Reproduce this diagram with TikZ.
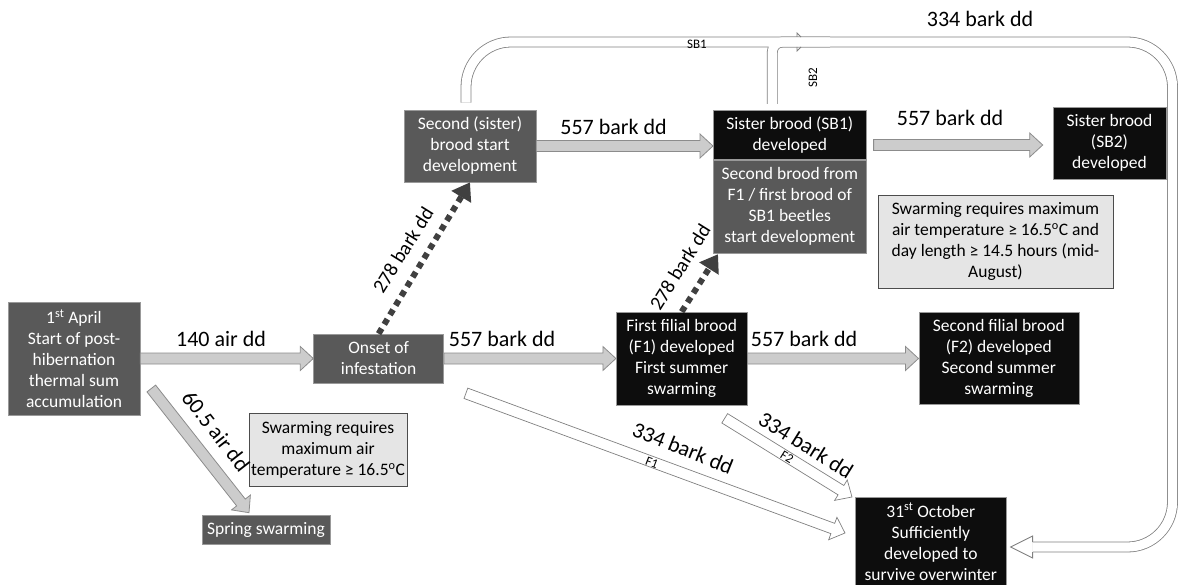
\documentclass[tikz,border=0pt]{standalone}
\usepackage{fontspec}
\setmainfont{Carlito}
\usetikzlibrary{arrows.meta,positioning,calc}

% straight block arrow from #2 to #3
\newcommand\blockarrow[3][]{%
  \coordinate (ba-h) at ($(#3)!13pt!(#2)$);
  \draw[blockarr,#1] ($(#2)!5.5pt!90:(#3)$) -- ($(ba-h)!5.5pt!90:(#3)$)
    -- ($(ba-h)!12pt!90:(#3)$) -- (#3) -- ($(ba-h)!12pt!-90:(#3)$)
    -- ($(ba-h)!5.5pt!-90:(#3)$) -- ($(#2)!5.5pt!-90:(#3)$) -- cycle;
}

\begin{document}
\begin{tikzpicture}[
  x=1pt, y=-1pt,
  box/.style={align=center,inner sep=2pt,font=\fontsize{17.5}{21}\selectfont},
  darkbox/.style={box,fill=black!65,draw=black!40,line width=0.6pt,text=white},
  blackbox/.style={box,fill=black!95,draw=black!40,line width=0.6pt,text=white},
  notebox/.style={box,fill=black!10,draw=black!70,line width=0.6pt},
  blockarr/.style={fill=black!20,draw=black!45,line width=0.8pt,line join=miter},
  hollowarr/.style={blockarr,fill=white,draw=black!50,line width=0.7pt},
  dotarr/.style={draw=black!75,line width=6pt,dash pattern=on 6pt off 5pt,-{Triangle[length=17pt,width=22pt]}},
  band/.style={draw=black!50,line width=10.8pt},
  bandin/.style={draw=white,line width=9.2pt},
  lbl/.style={font=\fontsize{22}{26}\selectfont,inner sep=0pt},
  dlbl/.style={font=\fontsize{20}{24}\selectfont,inner sep=0pt},
  tag/.style={font=\fontsize{13}{15}\selectfont,inner sep=0pt},
]
\useasboundingbox (0,0) rectangle (1178,585);

% stages
\node[darkbox,minimum width=132pt,minimum height=113pt] (start) at (74,358.5) {1\textsuperscript{st} April\\Start of post-\\hibernation\\thermal sum\\accumulation};
\node[darkbox,right=173pt of start,minimum width=130pt,minimum height=49pt] (onset) {Onset of\\infestation};
\node[blackbox,right=172pt of onset,minimum width=131pt,minimum height=93pt] (f1) {First filial brood\\(F1) developed\\First summer\\swarming};
\node[blackbox,right=171pt of f1,minimum width=160pt,minimum height=92pt] (f2) {Second filial brood\\(F2) developed\\Second summer\\swarming};
\node[darkbox,minimum width=132pt,minimum height=72pt] (second) at (470,146) {Second (sister)\\brood start\\development};
\node[blackbox,anchor=north west,minimum width=153pt,minimum height=49pt] (sb1) at (713,110) {Sister brood (SB1)\\developed};
\node[darkbox,below=0pt of sb1,minimum width=153pt,minimum height=93pt] (sb1b) {Second brood from\\F1 / first brood of\\SB1 beetles\\start development};
\node[blackbox,minimum width=113pt,minimum height=72pt] (sb2) at (1109.5,143) {Sister brood\\(SB2)\\developed};
\node[notebox,minimum width=235pt,minimum height=93pt] (note2) at (995.5,241.5) {Swarming requires maximum\\air temperature ≥ 16.5\textsuperscript{o}C and\\day length ≥ 14.5 hours (mid-\\August)};
\node[notebox,minimum width=140pt,minimum height=73pt] (note1) at (328,450) {Swarming requires\\maximum air\\temperature ≥ 16.5\textsuperscript{o}C};
\node[darkbox,minimum width=128pt,minimum height=29pt] (spring) at (266,529.5) {Spring swarming};
\node[blackbox,anchor=north west,minimum width=151pt,minimum height=89pt] (october) at (855,497) {31\textsuperscript{st} October\\Sufficiently\\developed to\\survive overwinter};

% free ends
\coordinate (sptail) at ($(start.east)+(11,30)$);
\coordinate (sptip) at ($(spring.north)+(-17,-2)$);
\coordinate (f1tail) at ($(onset.south east)+(22,10)$);
\coordinate (f1tip) at ($(october.north west)+(-10,36)$);
\coordinate (f2tail) at ($(f1.south)+(43,13)$);
\coordinate (f2tip) at ($(october.north west)+(-3,0)$);
\coordinate (sbtail) at ($(sb1.east |- sb2.west)+(7,2)$);
\coordinate (sbtip) at ($(sb2.west)+(-10,2)$);
\coordinate (sb1tip) at ($(sb1b.south west)+(5,1)$);

% block arrows
\blockarrow{start.east}{onset.west}
\blockarrow{onset.east}{f1.west}
\blockarrow{f1.east}{f2.west}
\blockarrow{second.east}{second.east -| sb1.west}
\blockarrow{sbtail}{sbtip}
\blockarrow{sptail}{sptip}
\blockarrow[hollowarr]{f1tail}{f1tip}
\blockarrow[hollowarr]{f2tail}{f2tip}

% dotted arrows
\draw[dotarr] (onset.north) -- (second.south);
\draw[dotarr] (f1.north) -- (sb1tip);

% big loop to 31st October
\coordinate (sbstart) at ($(second.north)+(-4,-7)$);
\coordinate (sbbranch) at ($(sb1.north)+(-17.5,-6)$);
\coordinate (octtip) at ($(october.north east)+(4,50)$);
\coordinate (octbase) at ($(octtip)+(22,0)$);
\coordinate (sbjoin) at (797,42);
\draw[band,rounded corners=45pt] (sbstart) |- (1172.5,42) |- (octbase);
\draw[band,rounded corners=10pt] (sbbranch) |- (830,42);
\draw[bandin,rounded corners=45pt] (sbstart) |- (1172.5,42) |- (octbase);
\draw[bandin,rounded corners=10pt] (sbbranch) |- (830,42);
\filldraw[fill=white,draw=black!50,line width=0.8pt] ($(octbase)+(0,-5)$) -- ($(octbase)+(0,-11)$) -- (octtip) -- ($(octbase)+(0,11)$) -- ($(octbase)+(0,5)$);
\draw[black!50,line width=0.8pt] ($(sbjoin)+(0,-5)$) -- ($(sbjoin)+(0,-9)$) -- ($(sbjoin)+(4,-5)$);
\draw[black!50,line width=0.8pt] ($(sbjoin)+(0,5)$) -- ($(sbjoin)+(0,9)$) -- ($(sbjoin)+(4,5)$);

% labels
\node[lbl,anchor=base] (l140) at (221,346) {140 air dd};
\node[lbl,anchor=base] (l557a) at (502,346) {557 bark dd};
\node[lbl,anchor=base] (l557b) at (804,346) {557 bark dd};
\node[lbl,anchor=base] (l557c) at (613.5,135) {557 bark dd};
\node[lbl,anchor=base] (l557d) at (950,126) {557 bark dd};
\node[lbl,anchor=base] (l334) at (980,27) {334 bark dd};
\node[lbl,rotate=-52] (l605) at (216,431) {60.5 air dd};
\node[dlbl,rotate=58] (l278a) at (403,250) {278 bark dd};
\node[dlbl,rotate=58] (l278b) at (680,267) {278 bark dd};
\node[lbl,rotate=-22] (l334f1) at (683,448) {334 bark dd};
\node[lbl,rotate=-32] (l334f2) at (806,445) {334 bark dd};
\node[tag,rotate=-21] (tf1) at (652,463) {F1};
\node[tag,rotate=-32] (tf2) at (787,457) {F2};
\node[tag] (tsb1) at (697,44) {SB1};
\node[tag,rotate=90] (tsb2) at (813,78) {SB2};
\end{tikzpicture}
\end{document}
